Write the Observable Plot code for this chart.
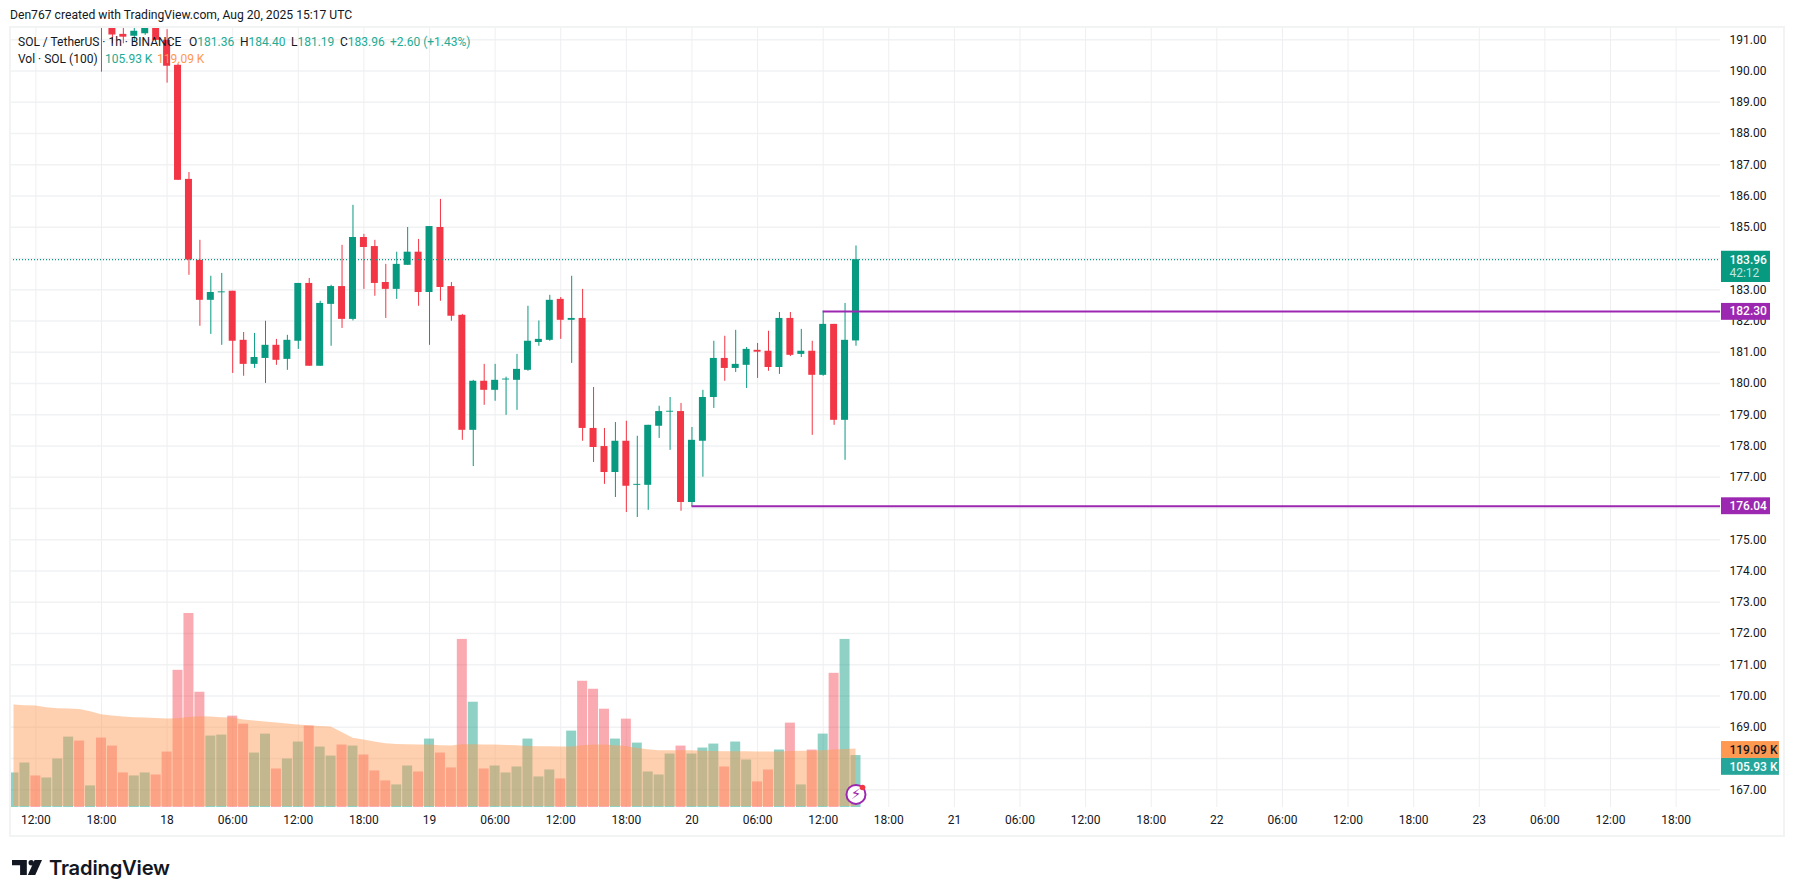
<!DOCTYPE html>
<html>
<head>
<meta charset="utf-8">
<script src="https://cdn.jsdelivr.net/npm/d3@7"></script>
<script src="https://cdn.jsdelivr.net/npm/@observablehq/plot@0.6"></script>
<style>
  html,body{margin:0;padding:0;background:#fff;overflow:hidden;font-family:Roboto,sans-serif;color:#131722}
  #wrap{position:relative;width:1794px;height:895px}
  #title{height:27px;line-height:30px;padding-left:10px;font-size:12.15px;white-space:nowrap}
  #chart svg{display:block}
  #frame{position:absolute;left:9px;top:26px;width:1772px;height:807px;border:2px solid #f2f3f3;pointer-events:none}
  .lg{position:absolute;font-size:12px;line-height:14px;white-space:nowrap}
  .g{color:#22ab94}.o{color:#ff9850}
  #foot{position:absolute;left:12px;top:857px;display:flex;align-items:center;height:20px}
  #foot span{margin-left:7px;font-family:Inter,sans-serif;font-weight:600;font-size:20.2px;letter-spacing:-.2px;color:#131722}
</style>
</head>
<body>
<div id="wrap">
  <div id="title">Den767 created with TradingView.com, Aug 20, 2025 15:17 UTC</div>
  <div id="chart"></div>
  <div id="frame"></div>
  <div class="lg" style="left:18px;top:35px">SOL / TetherUS · 1h · BINANCE</div>
  <div class="lg" style="left:189px;top:35px">O<span class="g">181.36</span></div>
  <div class="lg" style="left:240px;top:35px">H<span class="g">184.40</span></div>
  <div class="lg" style="left:291px;top:35px">L<span class="g">181.19</span></div>
  <div class="lg" style="left:340px;top:35px">C<span class="g">183.96</span></div>
  <div class="lg g" style="left:390px;top:35px">+2.60 (+1.43%)</div>
  <div class="lg" style="left:18px;top:52px">Vol · SOL (100)</div>
  <div class="lg g" style="left:105px;top:52px">105.93 K</div>
  <div class="lg o" style="left:157px;top:52px">119.09 K</div>
  <div id="foot">
    <svg width="30" height="15" viewBox="36 772 89 44" aria-hidden="true">
      <path fill="#131722" d="M36 772h44v44H60V787H36z"/>
      <circle fill="#131722" cx="93" cy="780" r="8"/>
      <path fill="#131722" d="M103 772h22l-20 44H83z"/>
    </svg>
    <span>TradingView</span>
  </div>
</div>
<script>
// hours are counted from 2025-08-17 12:00 UTC
const baseTime = Date.UTC(2025, 7, 17, 12);
const at = h => new Date(baseTime + h * 3600e3);

const candleOpen = [
  192.3,191.6,191.17,191.11,191.19,191.5,
  190.98,190.18,186.53,183.94,182.66,182.9,182.95,181.38,180.61,180.8,181.22,180.77,181.35,183.2,180.55,182.53,183.1,182.05,184.67,184.38,183.23,183.01,183.78,184.2,
  182.91,184.99,183.1,182.18,178.5,180.07,179.78,180.11,180.1,180.42,181.31,181.38,182.69,182.02,182.08,178.56,177.98,177.15,178.15,176.74,176.74,178.63,179.08,179.1,
  176.19,178.15,179.55,180.8,180.48,180.58,181.06,181.03,180.51,182.08,180.93,181.03,180.26,181.89,178.82,181.36
];
const candleHigh = [
  192.6,191.7,191.4,191.37,191.45,191.6,
  191.32,190.23,186.75,184.58,183.43,183.52,182.95,181.63,181.6,181.99,181.41,181.54,183.2,183.36,182.63,183.14,184.42,185.7,184.77,184.58,183.81,184.2,184.99,184.61,
  185.02,185.89,183.23,182.21,180.1,180.61,180.61,180.2,180.93,182.47,182.0,182.82,182.75,183.43,183.01,179.87,178.56,178.75,178.79,178.31,178.66,179.27,179.55,179.36,
  178.59,179.78,181.35,181.51,181.7,181.15,181.28,181.67,182.27,182.27,181.73,181.35,182.31,181.89,182.56,184.4
];
const candleLow = [
  189.96,190.87,190.87,190.92,191.14,190.98,
  189.61,186.5,183.46,181.83,181.57,181.22,180.32,180.23,180.48,180.0,180.58,180.42,181.09,180.55,180.55,181.19,181.76,182.0,183.01,182.79,182.08,182.69,183.78,182.47,
  181.22,182.63,181.99,178.18,177.34,179.3,179.43,178.98,179.14,180.39,181.19,181.35,181.41,180.64,178.15,177.47,176.77,176.35,175.87,175.71,175.94,178.24,177.86,175.91,
  176.06,177.0,179.2,180.07,180.35,179.84,180.16,180.39,180.29,180.86,180.83,178.34,180.23,178.66,177.54,181.19
];
const candleClose = [
  191.6,191.15,191.08,191.27,191.38,190.98,
  190.15,186.5,183.95,182.66,182.91,182.93,181.35,180.61,180.83,181.22,180.74,181.38,183.2,180.55,182.56,183.1,182.05,184.67,184.35,183.2,183.01,183.81,184.2,182.91,
  185.02,183.07,182.15,178.5,180.07,179.78,180.1,180.14,180.45,181.35,181.41,182.66,182.02,182.08,178.56,177.95,177.15,178.15,176.71,176.77,178.66,179.1,179.11,176.19,
  178.18,179.55,180.8,180.48,180.61,181.09,181.0,180.51,182.08,180.9,181.03,180.26,181.89,178.82,181.38,183.96
];

const volume = [
  70.4,90.7,64.3,60.2,98.8,143.5,135.4,44,141.5,125.2,70.4,64.3,70.4,66.3,
  113,279.6,395.4,234.9,145.6,147.6,186.2,169.9,111,149.6,78.5,98.8,133.4,165.9,123.2,104.9,127.3,125.2,107,74.5,54.2,46,84.6,72.4,
  139.5,111,80.6,342.6,214.6,78.5,84.6,70.4,82.6,139.5,62.3,76.5,58.2,155.7,257.3,241,200.4,139.5,180.1,131.3,72.4,66.3,109,125.2,
  109,121.2,129.3,82.6,133.4,96.8,52.1,76.5,117.1,172,46,117.1,149.6,273.5,342.6,105.93
];
const volumeSide = [
  "g","g","r","g","g","g","r","g","r","r","r","g","g","r",
  "r","r","r","r","g","g","r","r","g","g","r","g","g","r","g","g","r","g","r","r","r","g","g","r",
  "g","r","r","r","g","r","g","g","g","g","g","g","r","g","r","r","r","g","r","g","g","g","g","r",
  "g","g","g","r","g","g","r","r","g","r","g","r","g","r","g","g"
];
const volumeMA = [
  208.8,207.4,206.7,203.3,201.3,200.6,199.9,195.2,189,186.3,184.3,182.9,182.2,181.6,
  180.2,180.9,183.6,185,184.3,182.9,182.2,178.2,176.1,174.1,172,170,168,166.6,165.2,163.9,153,141.4,137.4,133.3,129.9,128.5,127.8,127.2,
  127.2,125.8,125.1,127.8,127.8,127.2,127.2,126.5,125.8,124.4,123.8,123.8,123.1,123.1,125.8,127.2,127.2,125.8,124.4,120.4,117.6,115.6,115.6,115.6,
  115.6,114.9,114.2,113.6,113.6,113.6,112.9,112.9,112.9,114.2,114.9,114.9,115.6,117,118.3,119.09
];

const gridPrices = [167,168,169,170,171,172,173,174,175,176,177,178,179,180,181,182,183,184,185,186,187,188,189,190,191];
const priceTicks = [167,169,170,171,172,173,174,175,177,178,179,180,181,182,183,185,186,187,188,189,190,191];
const timeTickLabels = ["12:00","18:00","18","06:00","12:00","18:00","19","06:00","12:00","18:00","20","06:00","12:00","18:00","21","06:00","12:00","18:00","22","06:00","12:00","18:00","23","06:00","12:00","18:00"];
const lastPrice = 183.96;
const levelValues = [176.04, 182.30];
const levelStartHours = [60, 72];

const upColor = "#089981", downColor = "#f23645", levelColor = "#9c27b0", maColor = "#ff9850";
const priceBottom = 166.43, priceTop = 191.39;
const volToPrice = d3.scaleLinear([0, 100], [priceBottom, 168.0]);

const candles = candleOpen.map((o, i) => ({
  t: at(i + 6), hour: i + 6, o, h: candleHigh[i], l: candleLow[i], c: candleClose[i]
}));
const vols = volume.map((v, i) => ({
  hour: i - 2, t: at(i - 2), v, ma: volumeMA[i], side: volumeSide[i]
}));
const timeTicks = timeTickLabels.map((_, i) => at(i * 6));
const tickLabelByTime = new Map(timeTicks.map((d, i) => [+d, timeTickLabels[i]]));
const levels = levelValues.map((v, i) => ({v, start: at(levelStartHours[i])}));
const endTime = at(154.06);

const tags = [
  {label:"183.96", sub:"42:12", p:183.96, top:184.23, bottom:183.23, fill:upColor, ink:"#fff", end:158.63},
  {label:"182.30", p:182.30, top:182.56, bottom:182.02, fill:levelColor, ink:"#fff", end:158.63},
  {label:"176.04", p:176.07, top:176.34, bottom:175.80, fill:levelColor, ink:"#fff", end:158.63},
  {label:"119.09 K", p:168.27, top:168.54, bottom:168.0, fill:"#ff9850", ink:"#131722", end:159.45},
  {label:"105.93 K", p:167.73, top:168.0, bottom:167.46, fill:"#26a69a", ink:"#fff", end:159.45}
];

const chart = Plot.plot({
  width: 1794, height: 808,
  marginLeft: 10, marginRight: 74, marginTop: 0, marginBottom: 28,
  style: {fontFamily: "Roboto, sans-serif", fontSize: "12px", background: "#fff", color: "#131722"},
  x: {type: "utc", domain: [at(-2.32), endTime]},
  y: {domain: [priceBottom, priceTop]},
  marks: [
    Plot.ruleY(gridPrices, {stroke: "#f1f2f3", strokeWidth: 1.4}),
    Plot.ruleX(timeTicks, {stroke: "#efeff1", strokeWidth: 1}),
    Plot.axisX({ticks: timeTicks, tickFormat: d => tickLabelByTime.get(+d), tickSize: 0, tickPadding: 8, label: null, fill: "#131722"}),
    Plot.axisY({anchor: "right", ticks: priceTicks, tickFormat: d => d.toFixed(2), tickSize: 0, tickPadding: 9, label: null, fill: "#131722"}),
    // volume pane
    Plot.rect(vols, {
      x1: d => at(d.hour - 0.457), x2: d => at(d.hour + 0.457),
      y1: volToPrice(0), y2: d => volToPrice(d.v),
      fill: d => d.side === "g" ? upColor : downColor,
      fillOpacity: d => d.side === "g" ? 0.45 : 0.42, clip: true
    }),
    Plot.areaY(vols, {x: "t", y1: volToPrice(2), y2: d => volToPrice(d.ma), fill: maColor, fillOpacity: 0.46, clip: true}),
    // candles
    Plot.ruleX(candles, {x: "t", y1: "l", y2: "h", stroke: d => d.c >= d.o ? upColor : downColor, strokeWidth: 1, clip: true}),
    Plot.rect(candles, {
      x1: d => at(d.hour - 0.32), x2: d => at(d.hour + 0.32),
      y1: "o", y2: "c", fill: d => d.c >= d.o ? upColor : downColor, clip: true
    }),
    // last price and levels
    Plot.ruleY([lastPrice], {stroke: upColor, strokeWidth: 1.3, strokeDasharray: "1 2"}),
    Plot.ruleY(levels.slice(0, 1), {y: "v", x1: "start", x2: endTime, stroke: levelColor, strokeWidth: 2, dy: -1}),
    Plot.ruleY(levels.slice(1), {y: "v", x1: "start", x2: endTime, stroke: levelColor, strokeWidth: 2}),
    // flash icon
    Plot.dot([{t: at(75), p: 166.85}], {x: "t", y: "p", r: 9.5, stroke: levelColor, strokeWidth: 2, fill: "#fff"}),
    Plot.text([{t: at(75), p: 166.85}], {x: "t", y: "p", text: () => "⚡", fill: levelColor, fontSize: 15, fontFamily: "DejaVu Sans"}),
    Plot.dot([{t: at(75.6), p: 167.07}], {x: "t", y: "p", r: 2.8, fill: downColor}),
    // axis tags
    Plot.rect(tags, {x1: () => at(154.15), x2: d => at(d.end), y1: "bottom", y2: "top", fill: "fill"}),
    Plot.text(tags, {x: () => at(154.88), y: "p", text: "label", fill: "ink", textAnchor: "start", fontSize: 12, fontWeight: 500}),
    Plot.text(tags.filter(d => d.sub), {x: () => at(154.88), y: 183.52, text: "sub", fill: "#bfe6df", textAnchor: "start", fontSize: 12})
  ]
});
document.getElementById("chart").append(chart);
</script>
</body>
</html>
